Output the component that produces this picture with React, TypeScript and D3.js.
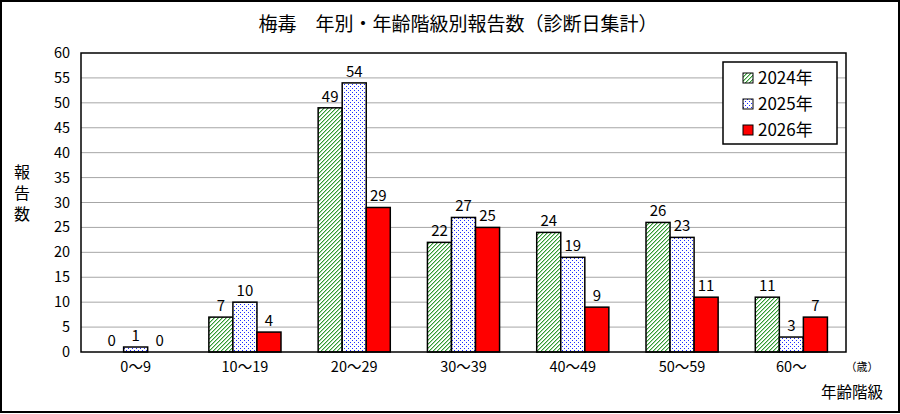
import React from "react";
import * as d3 from "d3";

const width = 900;
const height = 414;

const title = "梅毒　年別・年齢階級別報告数（診断日集計）";
const ageGroups = ["0～9", "10～19", "20～29", "30～39", "40～49", "50～59", "60～"];
const years = ["2024年", "2025年", "2026年"];
const counts2024 = [0, 7, 49, 22, 24, 26, 11];
const counts2025 = [1, 10, 54, 27, 19, 23, 3];
const counts2026 = [0, 4, 29, 25, 9, 11, 7];
const yTicks = [0, 5, 10, 15, 20, 25, 30, 35, 40, 45, 50, 55, 60];

const series = [counts2024, counts2025, counts2026];
const fills = ["url(#hatch)", "url(#dots)", "#ff0000"];

const margin = { top: 53, right: 54, bottom: 62, left: 81 };
const font = "'Noto Sans CJK JP', 'Noto Sans', sans-serif";

// pixel cells of the 4x4 pattern tiles
const hatchCells = [[3, 0], [2, 1], [1, 2], [0, 3]];
const hatchSoftCells = [[0, 0], [3, 1], [2, 2], [1, 3]];
const dotCells = [[0, 0], [2, 2]];

const App: React.FC = () => {
  const x = d3
    .scaleBand<string>()
    .domain(ageGroups)
    .range([margin.left, width - margin.right])
    .paddingInner(0.34)
    .paddingOuter(0.17);
  const xs = d3.scaleBand<string>().domain(years).range([0, x.bandwidth()]);
  const y = d3
    .scaleLinear()
    .domain([0, 60])
    .range([height - margin.bottom, margin.top]);

  const plotW = width - margin.left - margin.right;

  return (
    <div style={{ position: "absolute", left: 0, top: 0 }}>
      <svg width={width} height={height} style={{ display: "block", fontFamily: font }}>
        <defs>
          <pattern id="hatch" width="4" height="4" patternUnits="userSpaceOnUse">
            <rect width="4" height="4" fill="#fff" />
            {hatchCells.map(([cx, cy], i) => (
              <rect key={i} x={cx} y={cy} width={1} height={1} fill="#339933" shapeRendering="crispEdges" />
            ))}
            {hatchSoftCells.map(([cx, cy], i) => (
              <rect key={"s" + i} x={cx} y={cy} width={1} height={1} fill="#a8d8a8" shapeRendering="crispEdges" />
            ))}
          </pattern>
          <pattern id="dots" width="4" height="4" patternUnits="userSpaceOnUse">
            <rect width="4" height="4" fill="#fff" />
            {dotCells.map(([cx, cy], i) => (
              <rect key={i} x={cx} y={cy} width={1} height={1} fill="#1f2dff" shapeRendering="crispEdges" />
            ))}
          </pattern>
        </defs>

        <rect x={0} y={0} width={width} height={height} fill="#fff" />
        <rect x={1} y={1} width={width - 2} height={height - 3} fill="none" stroke="#000" strokeWidth={2} />

        <text x={458} y={31} textAnchor="middle" fontSize={19} fill="#000">
          {title}
        </text>

        {/* grid */}
        {yTicks.map((t) => (
          <g key={t}>
            {t > 0 && t < 60 && (
              <line x1={margin.left} x2={margin.left + plotW} y1={y(t)} y2={y(t)} stroke="#a6a6a6" strokeWidth={1} />
            )}
            <text x={70} y={y(t) + 5} textAnchor="end" fontSize={14.5} fill="#000">
              {t}
            </text>
          </g>
        ))}

        {/* bars */}
        {ageGroups.map((g, i) => (
          <g key={g}>
            {series.map((s, k) => {
              const bx = (x(g) as number) + (xs(years[k]) as number);
              const bw = xs.bandwidth();
              return (
                <g key={k}>
                  {s[i] > 0 && (
                    <rect
                      x={bx}
                      y={y(s[i])}
                      width={bw}
                      height={y(0) - y(s[i])}
                      fill={fills[k]}
                      stroke="#000"
                      strokeWidth={1.5}
                    />
                  )}
                  <text x={bx + bw / 2} y={y(s[i]) - 6} textAnchor="middle" fontSize={15} fill="#000">
                    {s[i]}
                  </text>
                </g>
              );
            })}
            <text x={(x(g) as number) + x.bandwidth() / 2} y={372} textAnchor="middle" fontSize={14.5} fill="#000">
              {g}
            </text>
          </g>
        ))}

        <rect x={margin.left} y={margin.top} width={plotW} height={y(0) - margin.top} fill="none" stroke="#000" strokeWidth={1.5} />

        {/* y axis title */}
        <text x={22} y={164} fontSize={16} fill="#000" letterSpacing={5} style={{ writingMode: "vertical-rl" }}>
          報告数
        </text>

        <text x={862} y={371} textAnchor="middle" fontSize={11} fill="#000">
          （歳）
        </text>
        <text x={852} y={398} textAnchor="middle" fontSize={15.5} fill="#000">
          年齢階級
        </text>

        {/* legend */}
        <rect x={723} y={62} width={114} height={82} fill="#fff" stroke="#000" strokeWidth={1.5} />
        {years.map((yr, k) => (
          <g key={yr} transform={`translate(743, ${73 + k * 26})`}>
            <rect width={10} height={10} fill={fills[k]} stroke="#000" strokeWidth={1} />
            <text x={15} y={10.5} fontSize={17} fill="#000">
              {yr}
            </text>
          </g>
        ))}
      </svg>
    </div>
  );
};

export default App;
